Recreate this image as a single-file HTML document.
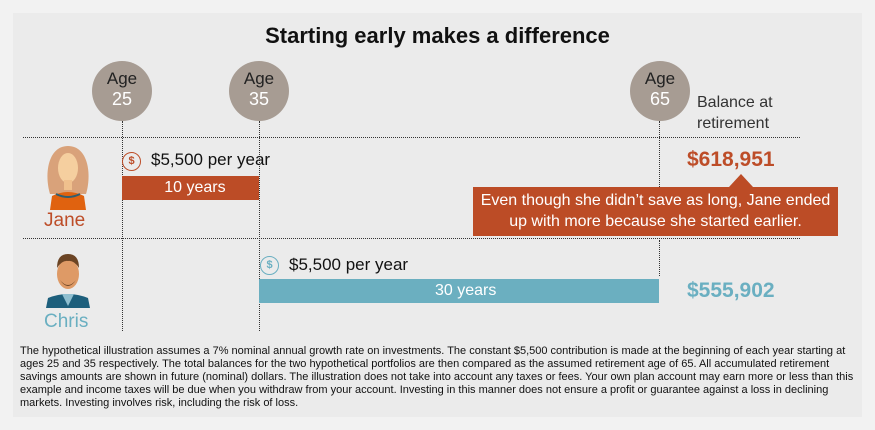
<!DOCTYPE html>
<html><head><meta charset="utf-8"><style>
body{margin:0;width:875px;height:430px;background:#f2f2f2;font-family:"Liberation Sans",sans-serif;position:relative;overflow:hidden}
.p{position:absolute;left:13px;top:13px;width:849px;height:404px;background:#ebebeb}
.a{position:absolute}
.c{position:absolute;width:60px;height:60px;border-radius:50%;background:#a79c93;text-align:center;top:61px}
.c .t{font-size:17px;color:#222;margin-top:8px;line-height:20px}
.c .n{font-size:18px;color:#fff;line-height:20px}
.vl{position:absolute;border-left:1.5px dotted #333;top:121px;height:210px}
.hl{position:absolute;border-top:1.5px dotted #333;left:23px;width:777px}
.dol{position:absolute;width:17px;height:17px;border-radius:50%;font-size:11px;text-align:center;line-height:17px;font-weight:bold}
</style></head><body>
<div class="p"></div>
<div class="a" style="left:0;width:875px;top:23px;text-align:center;font-size:22px;font-weight:bold;color:#111">Starting early makes a difference</div>
<div class="hl" style="top:137px"></div>
<div class="hl" style="top:238px"></div>
<div class="vl" style="left:122px"></div>
<div class="vl" style="left:259px"></div>
<div class="vl" style="left:659px;top:121px;height:96px"></div>
<div class="vl" style="left:659px;top:240px;height:36px"></div>
<div class="c" style="left:92px"><div class="t">Age</div><div class="n">25</div></div>
<div class="c" style="left:229px"><div class="t">Age</div><div class="n">35</div></div>
<div class="c" style="left:630px"><div class="t">Age</div><div class="n">65</div></div>
<div class="a" style="left:697px;top:92px;font-size:16px;line-height:21px;color:#333">Balance at<br>retirement</div>
<svg class="a" style="left:42px;top:144px" width="52" height="66" viewBox="0 0 52 66">
<path d="M8 50 C2 30 6 2 26 2 C46 2 50 30 44 50 Z" fill="#d9a27a"/>
<ellipse cx="26" cy="24" rx="10" ry="15" fill="#f5cf9f"/>
<rect x="22" y="36" width="8" height="10" fill="#f0c08d"/>
<path d="M8 66 L10 52 Q26 44 42 52 L44 66 Z" fill="#e0620f"/>
<path d="M14 50 Q26 56 38 50" stroke="#2f5e70" stroke-width="2" fill="none"/>
</svg>
<div class="a" style="left:44px;top:210px;font-size:19px;color:#bd4d28">Jane</div>
<div class="dol" style="left:122px;top:152px;border:1.5px solid #bd4d28;color:#bd4d28">$</div>
<div class="a" style="left:151px;top:150px;font-size:17px;color:#111">$5,500 per year</div>
<div class="a" style="left:122px;top:176px;width:137px;height:24px;background:#bc4c26;color:#fff;font-size:16px;line-height:24px;text-align:center">&nbsp;&nbsp;10 years</div>
<div class="a" style="left:687px;top:148px;font-size:21px;font-weight:bold;color:#bd4d28">$618,951</div>
<div class="a" style="left:729px;top:174px;width:0;height:0;border-left:12px solid transparent;border-right:12px solid transparent;border-bottom:13px solid #bc4c26"></div>
<div class="a" style="left:473px;top:187px;width:365px;height:49px;background:#bc4c26;color:#fff;font-size:16px;line-height:21px;text-align:center;padding-top:3px;box-sizing:border-box;white-space:nowrap">Even though she didn’t save as long, Jane ended<br>up with more because she started earlier.</div>
<svg class="a" style="left:42px;top:252px" width="52" height="56" viewBox="0 0 52 56">
<path d="M4 56 L6 46 Q26 38 46 46 L48 56 Z" fill="#1d5f7c"/>
<path d="M20 42 L26 54 L32 42 Z" fill="#8fbfd0"/>
<ellipse cx="26" cy="22" rx="11" ry="15" fill="#de9a66"/>
<path d="M15 16 Q15 2 26 2 Q37 2 37 16 Q32 8 26 9 Q20 8 15 16 Z" fill="#6b4424"/>
<path d="M18 28 Q26 38 34 28 Q30 34 26 34 Q22 34 18 28 Z" fill="#6b4424"/>
</svg>
<div class="a" style="left:44px;top:311px;font-size:19px;color:#6aafc1">Chris</div>
<div class="dol" style="left:260px;top:256px;border:1.5px solid #6aafc1;color:#6aafc1">$</div>
<div class="a" style="left:289px;top:255px;font-size:17px;color:#111">$5,500 per year</div>
<div class="a" style="left:259px;top:279px;width:400px;height:24px;background:#6bafc0;color:#fff;font-size:16px;line-height:24px;text-align:center">&nbsp;&nbsp;&nbsp;30 years</div>
<div class="a" style="left:687px;top:279px;font-size:21px;font-weight:bold;color:#6aafc1">$555,902</div>
<div class="a" style="left:20px;top:345px;width:845px;font-size:11px;line-height:13px;color:#111;white-space:nowrap">The hypothetical illustration assumes a 7% nominal annual growth rate on investments. The constant $5,500 contribution is made at the beginning of each year starting at<br>ages 25 and 35 respectively. The total balances for the two hypothetical portfolios are then compared as the assumed retirement age of 65. All accumulated retirement<br>savings amounts are shown in future (nominal) dollars. The illustration does not take into account any taxes or fees. Your own plan account may earn more or less than this<br>example and income taxes will be due when you withdraw from your account. Investing in this manner does not ensure a profit or guarantee against a loss in declining<br>markets. Investing involves risk, including the risk of loss.</div>
</body></html>
